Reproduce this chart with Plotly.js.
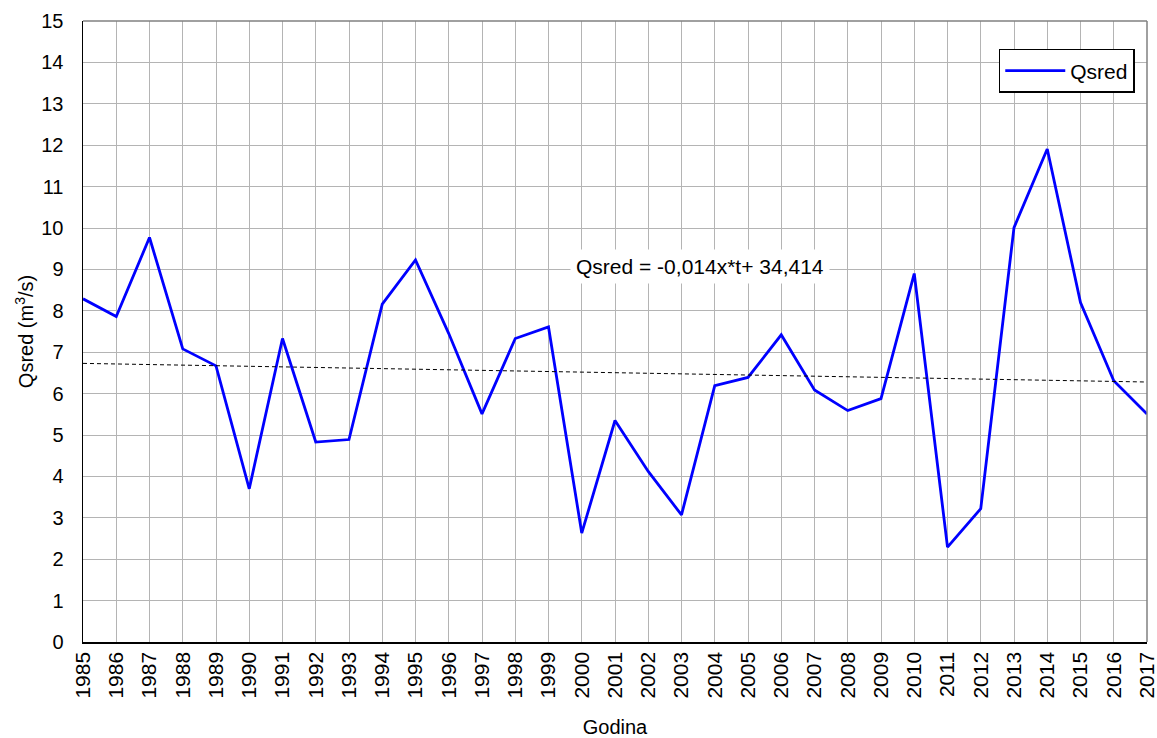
<!DOCTYPE html>
<html>
<head>
<meta charset="utf-8">
<script src="https://cdn.plot.ly/plotly-3.0.1.min.js"></script>
<style>html,body{margin:0;padding:0;background:#fff;}#chart{width:1157px;height:738px;}</style>
</head>
<body>
<div id="chart"></div>
<script>
const years = [1985,1986,1987,1988,1989,1990,1991,1992,1993,1994,1995,1996,1997,1998,1999,2000,2001,2002,2003,2004,2005,2006,2007,2008,2009,2010,2011,2012,2013,2014,2015,2016,2017];
const qsred = [8.29,7.86,9.77,7.08,6.67,3.70,7.33,4.83,4.89,8.16,9.23,7.45,5.51,7.33,7.61,2.63,5.35,4.12,3.07,6.19,6.39,7.42,6.09,5.59,5.88,8.90,2.29,3.22,10.01,11.91,8.20,6.31,5.51];
const trendYears = [1985, 2017];
const trendValues = [6.73, 6.28];
const tickLabels = years.map(String);
const equationText = "Qsred = -0,014x*t+ 34,414";

const FONT = "Arial, 'Liberation Sans', sans-serif";

const traces = [
  {x: years, y: qsred, type: 'scatter', mode: 'lines', name: 'Qsred',
   line: {color: '#0000ff', width: 2.8}, showlegend: true},
  {x: trendYears, y: trendValues, type: 'scatter', mode: 'lines', name: 'trend',
   line: {color: '#000000', width: 1, dash: '4px,3px'}, showlegend: false, hoverinfo: 'skip'}
];

const layout = {
  width: 1157, height: 738,
  margin: {l: 83, r: 10, t: 21, b: 96},
  paper_bgcolor: '#ffffff', plot_bgcolor: '#ffffff',
  font: {family: FONT, color: '#000', size: 20},
  showlegend: true,
  legend: {x: 0.9885, xanchor: 'right', y: 0.955, yanchor: 'top',
           bordercolor: '#000', borderwidth: 1.5, bgcolor: '#fff',
           itemwidth: 60,
           font: {size: 21, family: FONT}},
  xaxis: {
    range: [1985, 2017], tickmode: 'array', tickvals: years, ticktext: tickLabels,
    tickangle: -90, showgrid: true, gridcolor: '#b4b4b4', gridwidth: 1,
    showline: true, linecolor: '#000', linewidth: 1.5, mirror: false,
    ticks: '', tickfont: {size: 21, family: FONT}, ticklabeloverflow: 'allow',
    title: {text: 'Godina', font: {size: 20, family: FONT}, standoff: 22},
    zeroline: false
  },
  yaxis: {
    range: [0, 15], dtick: 1, tick0: 0, showgrid: true, gridcolor: '#b4b4b4', gridwidth: 1,
    showline: true, linecolor: '#000', linewidth: 1.5,
    ticks: '', tickfont: {size: 20, family: FONT}, ticklabelstandoff: 14,
    title: {text: 'Qsred (m<sup>3</sup>/s)', font: {size: 20, family: FONT}, standoff: 2},
    zeroline: false
  },
  shapes: [
    {type: 'line', xref: 'paper', yref: 'paper', x0: 0, x1: 1, y0: 1, y1: 1, line: {color: '#808080', width: 1.5}},
    {type: 'line', xref: 'paper', yref: 'paper', x0: 1, x1: 1, y0: 0, y1: 1, line: {color: '#808080', width: 1.5}}
  ],
  annotations: [
    {x: 2003.55, y: 9.08, xref: 'x', yref: 'y', text: equationText, showarrow: false,
     bgcolor: '#ffffff', borderpad: 5, font: {size: 21, family: FONT, color: '#000'}}
  ]
};

Plotly.newPlot('chart', traces, layout, {displayModeBar: false, staticPlot: true});
</script>
</body>
</html>
